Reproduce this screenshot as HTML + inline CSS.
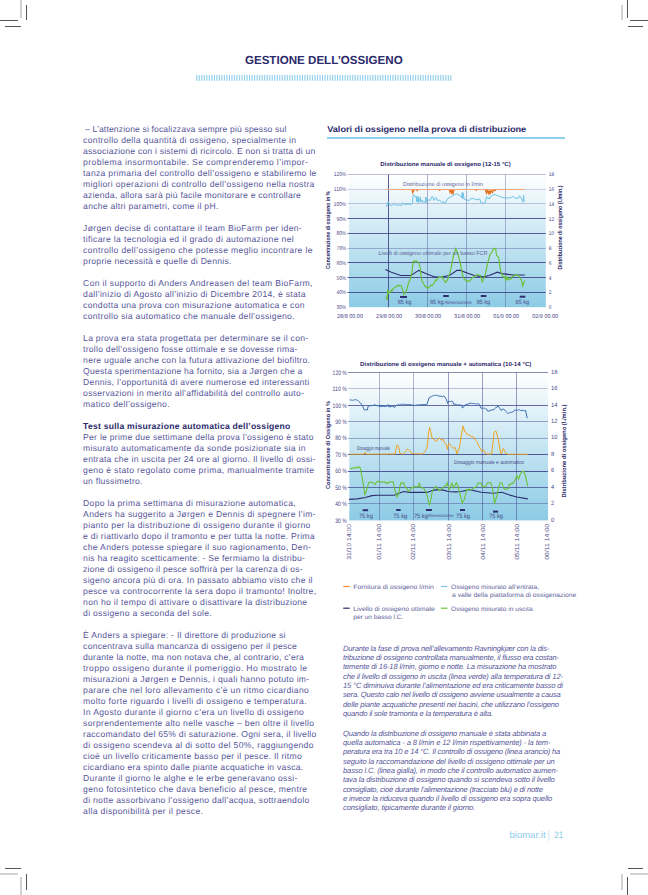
<!DOCTYPE html>
<html><head><meta charset="utf-8"><style>
html,body{margin:0;padding:0;background:#fff;}
body{width:648px;height:895px;position:relative;overflow:hidden;font-family:"Liberation Sans",sans-serif;}
.l{position:absolute;white-space:nowrap;color:#57579a;font-size:9.2px;line-height:11px;left:83px;}
.l b{color:#2b2a6b;}
.c{position:absolute;white-space:nowrap;color:#57579a;font-size:7.6px;line-height:9px;left:343px;font-style:italic;}
.abs{position:absolute;}
</style></head><body>

<div class="abs" style="left:20px;top:0px;width:2px;height:18px;background:#d2d2d2"></div>
<div class="abs" style="left:26px;top:5px;width:1px;height:15px;background:#555"></div>
<div class="abs" style="left:0px;top:20px;width:18px;height:1px;background:#555"></div>
<div class="abs" style="left:5px;top:26px;width:16px;height:1px;background:#555"></div>
<div class="abs" style="left:621px;top:5px;width:2px;height:15px;background:#d2d2d2"></div>
<div class="abs" style="left:627px;top:0px;width:1px;height:18px;background:#555"></div>
<div class="abs" style="left:630px;top:20px;width:18px;height:1px;background:#555"></div>
<div class="abs" style="left:628px;top:26px;width:15px;height:1px;background:#555"></div>
<div class="abs" style="left:5px;top:868px;width:16px;height:1px;background:#555"></div>
<div class="abs" style="left:0px;top:873px;width:18px;height:2px;background:#d2d2d2"></div>
<div class="abs" style="left:20px;top:877px;width:2px;height:18px;background:#d2d2d2"></div>
<div class="abs" style="left:26px;top:874px;width:1px;height:16px;background:#555"></div>
<div class="abs" style="left:628px;top:868px;width:15px;height:1px;background:#555"></div>
<div class="abs" style="left:630px;top:873px;width:18px;height:2px;background:#d2d2d2"></div>
<div class="abs" style="left:621px;top:874px;width:2px;height:16px;background:#d2d2d2"></div>
<div class="abs" style="left:627px;top:877px;width:1px;height:18px;background:#555"></div>
<svg class="abs" style="left:0;top:0" width="648" height="120" font-family="Liberation Sans, sans-serif" text-rendering="geometricPrecision"><text x="244.9" y="63.6" font-size="11.7" font-weight="bold" fill="#2b2a6b" textLength="157.8" lengthAdjust="spacingAndGlyphs">GESTIONE DELL’OSSIGENO</text></svg>
<svg class="abs" style="left:0;top:0" width="648" height="100"><rect x="196.20" y="75" width="1.15" height="5.8" fill="#92d0ec"/><rect x="198.71" y="75" width="1.15" height="5.8" fill="#92d0ec"/><rect x="201.23" y="75" width="1.15" height="5.8" fill="#92d0ec"/><rect x="203.74" y="75" width="1.15" height="5.8" fill="#92d0ec"/><rect x="206.26" y="75" width="1.15" height="5.8" fill="#92d0ec"/><rect x="208.77" y="75" width="1.15" height="5.8" fill="#92d0ec"/><rect x="211.29" y="75" width="1.15" height="5.8" fill="#92d0ec"/><rect x="213.80" y="75" width="1.15" height="5.8" fill="#92d0ec"/><rect x="216.32" y="75" width="1.15" height="5.8" fill="#92d0ec"/><rect x="218.83" y="75" width="1.15" height="5.8" fill="#92d0ec"/><rect x="221.35" y="75" width="1.15" height="5.8" fill="#92d0ec"/><rect x="223.86" y="75" width="1.15" height="5.8" fill="#92d0ec"/><rect x="226.38" y="75" width="1.15" height="5.8" fill="#92d0ec"/><rect x="228.89" y="75" width="1.15" height="5.8" fill="#92d0ec"/><rect x="231.41" y="75" width="1.15" height="5.8" fill="#92d0ec"/><rect x="233.92" y="75" width="1.15" height="5.8" fill="#92d0ec"/><rect x="236.44" y="75" width="1.15" height="5.8" fill="#92d0ec"/><rect x="238.95" y="75" width="1.15" height="5.8" fill="#92d0ec"/><rect x="241.47" y="75" width="1.15" height="5.8" fill="#92d0ec"/><rect x="243.98" y="75" width="1.15" height="5.8" fill="#92d0ec"/><rect x="246.50" y="75" width="1.15" height="5.8" fill="#92d0ec"/><rect x="249.01" y="75" width="1.15" height="5.8" fill="#92d0ec"/><rect x="251.53" y="75" width="1.15" height="5.8" fill="#92d0ec"/><rect x="254.04" y="75" width="1.15" height="5.8" fill="#92d0ec"/><rect x="256.56" y="75" width="1.15" height="5.8" fill="#92d0ec"/><rect x="259.07" y="75" width="1.15" height="5.8" fill="#92d0ec"/><rect x="261.59" y="75" width="1.15" height="5.8" fill="#92d0ec"/><rect x="264.11" y="75" width="1.15" height="5.8" fill="#92d0ec"/><rect x="266.62" y="75" width="1.15" height="5.8" fill="#92d0ec"/><rect x="269.13" y="75" width="1.15" height="5.8" fill="#92d0ec"/><rect x="271.65" y="75" width="1.15" height="5.8" fill="#92d0ec"/><rect x="274.16" y="75" width="1.15" height="5.8" fill="#92d0ec"/><rect x="276.68" y="75" width="1.15" height="5.8" fill="#92d0ec"/><rect x="279.19" y="75" width="1.15" height="5.8" fill="#92d0ec"/><rect x="281.71" y="75" width="1.15" height="5.8" fill="#92d0ec"/><rect x="284.23" y="75" width="1.15" height="5.8" fill="#92d0ec"/><rect x="286.74" y="75" width="1.15" height="5.8" fill="#92d0ec"/><rect x="289.25" y="75" width="1.15" height="5.8" fill="#92d0ec"/><rect x="291.77" y="75" width="1.15" height="5.8" fill="#92d0ec"/><rect x="294.28" y="75" width="1.15" height="5.8" fill="#92d0ec"/><rect x="296.80" y="75" width="1.15" height="5.8" fill="#92d0ec"/><rect x="299.31" y="75" width="1.15" height="5.8" fill="#92d0ec"/><rect x="301.83" y="75" width="1.15" height="5.8" fill="#92d0ec"/><rect x="304.35" y="75" width="1.15" height="5.8" fill="#92d0ec"/><rect x="306.86" y="75" width="1.15" height="5.8" fill="#92d0ec"/><rect x="309.38" y="75" width="1.15" height="5.8" fill="#92d0ec"/><rect x="311.89" y="75" width="1.15" height="5.8" fill="#92d0ec"/><rect x="314.40" y="75" width="1.15" height="5.8" fill="#92d0ec"/><rect x="316.92" y="75" width="1.15" height="5.8" fill="#92d0ec"/><rect x="319.44" y="75" width="1.15" height="5.8" fill="#92d0ec"/><rect x="321.95" y="75" width="1.15" height="5.8" fill="#92d0ec"/><rect x="324.47" y="75" width="1.15" height="5.8" fill="#92d0ec"/><rect x="326.98" y="75" width="1.15" height="5.8" fill="#92d0ec"/><rect x="329.50" y="75" width="1.15" height="5.8" fill="#92d0ec"/><rect x="332.01" y="75" width="1.15" height="5.8" fill="#92d0ec"/><rect x="334.52" y="75" width="1.15" height="5.8" fill="#92d0ec"/><rect x="337.04" y="75" width="1.15" height="5.8" fill="#92d0ec"/><rect x="339.56" y="75" width="1.15" height="5.8" fill="#92d0ec"/><rect x="342.07" y="75" width="1.15" height="5.8" fill="#92d0ec"/><rect x="344.59" y="75" width="1.15" height="5.8" fill="#92d0ec"/><rect x="347.10" y="75" width="1.15" height="5.8" fill="#92d0ec"/><rect x="349.62" y="75" width="1.15" height="5.8" fill="#92d0ec"/><rect x="352.13" y="75" width="1.15" height="5.8" fill="#92d0ec"/><rect x="354.64" y="75" width="1.15" height="5.8" fill="#92d0ec"/><rect x="357.16" y="75" width="1.15" height="5.8" fill="#92d0ec"/><rect x="359.67" y="75" width="1.15" height="5.8" fill="#92d0ec"/><rect x="362.19" y="75" width="1.15" height="5.8" fill="#92d0ec"/><rect x="364.70" y="75" width="1.15" height="5.8" fill="#92d0ec"/><rect x="367.22" y="75" width="1.15" height="5.8" fill="#92d0ec"/><rect x="369.74" y="75" width="1.15" height="5.8" fill="#92d0ec"/><rect x="372.25" y="75" width="1.15" height="5.8" fill="#92d0ec"/><rect x="374.76" y="75" width="1.15" height="5.8" fill="#92d0ec"/><rect x="377.28" y="75" width="1.15" height="5.8" fill="#92d0ec"/><rect x="379.79" y="75" width="1.15" height="5.8" fill="#92d0ec"/><rect x="382.31" y="75" width="1.15" height="5.8" fill="#92d0ec"/><rect x="384.82" y="75" width="1.15" height="5.8" fill="#92d0ec"/><rect x="387.34" y="75" width="1.15" height="5.8" fill="#92d0ec"/><rect x="389.86" y="75" width="1.15" height="5.8" fill="#92d0ec"/><rect x="392.37" y="75" width="1.15" height="5.8" fill="#92d0ec"/><rect x="394.88" y="75" width="1.15" height="5.8" fill="#92d0ec"/><rect x="397.40" y="75" width="1.15" height="5.8" fill="#92d0ec"/><rect x="399.91" y="75" width="1.15" height="5.8" fill="#92d0ec"/><rect x="402.43" y="75" width="1.15" height="5.8" fill="#92d0ec"/><rect x="404.94" y="75" width="1.15" height="5.8" fill="#92d0ec"/><rect x="407.46" y="75" width="1.15" height="5.8" fill="#92d0ec"/><rect x="409.98" y="75" width="1.15" height="5.8" fill="#92d0ec"/><rect x="412.49" y="75" width="1.15" height="5.8" fill="#92d0ec"/><rect x="415.00" y="75" width="1.15" height="5.8" fill="#92d0ec"/><rect x="417.52" y="75" width="1.15" height="5.8" fill="#92d0ec"/><rect x="420.03" y="75" width="1.15" height="5.8" fill="#92d0ec"/><rect x="422.55" y="75" width="1.15" height="5.8" fill="#92d0ec"/><rect x="425.06" y="75" width="1.15" height="5.8" fill="#92d0ec"/><rect x="427.58" y="75" width="1.15" height="5.8" fill="#92d0ec"/><rect x="430.10" y="75" width="1.15" height="5.8" fill="#92d0ec"/><rect x="432.61" y="75" width="1.15" height="5.8" fill="#92d0ec"/><rect x="435.12" y="75" width="1.15" height="5.8" fill="#92d0ec"/><rect x="437.64" y="75" width="1.15" height="5.8" fill="#92d0ec"/><rect x="440.15" y="75" width="1.15" height="5.8" fill="#92d0ec"/><rect x="442.67" y="75" width="1.15" height="5.8" fill="#92d0ec"/><rect x="445.19" y="75" width="1.15" height="5.8" fill="#92d0ec"/><rect x="447.70" y="75" width="1.15" height="5.8" fill="#92d0ec"/><rect x="450.22" y="75" width="1.15" height="5.8" fill="#92d0ec"/></svg>
<svg class="abs" style="left:0;top:0" width="648" height="895" viewBox="0 0 648 895" font-family="Liberation Sans, sans-serif" text-rendering="geometricPrecision">
<text x="85.0" y="131.7" font-size="8.6" fill="#57579a" textLength="201.3" lengthAdjust="spacing">– L’attenzione si focalizzava sempre più spesso sul</text>
<text x="83.1" y="142.7" font-size="8.6" fill="#57579a" textLength="212.9" lengthAdjust="spacing">controllo della quantità di ossigeno, specialmente in</text>
<text x="83.1" y="153.7" font-size="8.6" fill="#57579a" textLength="232.2" lengthAdjust="spacing">associazione con i sistemi di ricircolo. E non si tratta di un</text>
<text x="83.1" y="164.7" font-size="8.6" fill="#57579a" textLength="224.8" lengthAdjust="spacing">problema insormontabile. Se comprenderemo l’impor-</text>
<text x="83.1" y="175.7" font-size="8.6" fill="#57579a" textLength="233.3" lengthAdjust="spacing">tanza primaria del controllo dell’ossigeno e stabiliremo le</text>
<text x="83.1" y="186.7" font-size="8.6" fill="#57579a" textLength="231.3" lengthAdjust="spacing">migliori operazioni di controllo dell’ossigeno nella nostra</text>
<text x="83.1" y="197.7" font-size="8.6" fill="#57579a" textLength="217.8" lengthAdjust="spacing">azienda, allora sarà più facile monitorare e controllare</text>
<text x="83.1" y="208.7" font-size="8.6" fill="#57579a" textLength="135.2" lengthAdjust="spacing">anche altri parametri, come il pH.</text>
<text x="83.1" y="230.7" font-size="8.6" fill="#57579a" textLength="218.6" lengthAdjust="spacing">Jørgen decise di contattare il team BioFarm per iden-</text>
<text x="83.1" y="241.7" font-size="8.6" fill="#57579a" textLength="210.6" lengthAdjust="spacing">tificare la tecnologia ed il grado di automazione nel</text>
<text x="83.1" y="252.7" font-size="8.6" fill="#57579a" textLength="229.4" lengthAdjust="spacing">controllo dell’ossigeno che potesse meglio incontrare le</text>
<text x="83.1" y="263.7" font-size="8.6" fill="#57579a" textLength="148.3" lengthAdjust="spacing">proprie necessità e quelle di Dennis.</text>
<text x="83.1" y="285.7" font-size="8.6" fill="#57579a" textLength="229.4" lengthAdjust="spacing">Con il supporto di Anders Andreasen del team BioFarm,</text>
<text x="83.1" y="296.7" font-size="8.6" fill="#57579a" textLength="222.4" lengthAdjust="spacing">dall’inizio di Agosto all’inizio di Dicembre 2014, è stata</text>
<text x="83.1" y="307.7" font-size="8.6" fill="#57579a" textLength="221.4" lengthAdjust="spacing">condotta una prova con misurazione automatica e con</text>
<text x="83.1" y="318.7" font-size="8.6" fill="#57579a" textLength="211.4" lengthAdjust="spacing">controllo sia automatico che manuale dell’ossigeno.</text>
<text x="83.1" y="340.7" font-size="8.6" fill="#57579a" textLength="225.0" lengthAdjust="spacing">La prova era stata progettata per determinare se il con-</text>
<text x="83.1" y="351.7" font-size="8.6" fill="#57579a" textLength="214.2" lengthAdjust="spacing">trollo dell’ossigeno fosse ottimale e se dovesse rima-</text>
<text x="83.1" y="362.7" font-size="8.6" fill="#57579a" textLength="226.8" lengthAdjust="spacing">nere uguale anche con la futura attivazione del biofiltro.</text>
<text x="83.1" y="373.7" font-size="8.6" fill="#57579a" textLength="219.2" lengthAdjust="spacing">Questa sperimentazione ha fornito, sia a Jørgen che a</text>
<text x="83.1" y="384.7" font-size="8.6" fill="#57579a" textLength="226.1" lengthAdjust="spacing">Dennis, l’opportunità di avere numerose ed interessanti</text>
<text x="83.1" y="395.7" font-size="8.6" fill="#57579a" textLength="220.7" lengthAdjust="spacing">osservazioni in merito all’affidabilità del controllo auto-</text>
<text x="83.1" y="406.7" font-size="8.6" fill="#57579a" textLength="86.5" lengthAdjust="spacing">matico dell’ossigeno.</text>
<text x="83.1" y="428.7" font-size="8.6" font-weight="bold" fill="#2b2a6b" textLength="207.1" lengthAdjust="spacing">Test sulla misurazione automatica dell’ossigeno</text>
<text x="83.1" y="439.7" font-size="8.6" fill="#57579a" textLength="230.4" lengthAdjust="spacing">Per le prime due settimane della prova l’ossigeno è stato</text>
<text x="83.1" y="450.7" font-size="8.6" fill="#57579a" textLength="222.4" lengthAdjust="spacing">misurato automaticamente da sonde posizionate sia in</text>
<text x="83.1" y="461.7" font-size="8.6" fill="#57579a" textLength="232.2" lengthAdjust="spacing">entrata che in uscita per 24 ore al giorno. Il livello di ossi-</text>
<text x="83.1" y="472.7" font-size="8.6" fill="#57579a" textLength="230.9" lengthAdjust="spacing">geno è stato regolato come prima, manualmente tramite</text>
<text x="83.1" y="483.7" font-size="8.6" fill="#57579a" textLength="59.3" lengthAdjust="spacing">un flussimetro.</text>
<text x="83.1" y="505.7" font-size="8.6" fill="#57579a" textLength="212.5" lengthAdjust="spacing">Dopo la prima settimana di misurazione automatica,</text>
<text x="83.1" y="516.7" font-size="8.6" fill="#57579a" textLength="232.6" lengthAdjust="spacing">Anders ha suggerito a Jørgen e Dennis di spegnere l’im-</text>
<text x="83.1" y="527.7" font-size="8.6" fill="#57579a" textLength="227.2" lengthAdjust="spacing">pianto per la distribuzione di ossigeno durante il giorno</text>
<text x="83.1" y="538.7" font-size="8.6" fill="#57579a" textLength="231.5" lengthAdjust="spacing">e di riattivarlo dopo il tramonto e per tutta la notte. Prima</text>
<text x="83.1" y="549.7" font-size="8.6" fill="#57579a" textLength="227.8" lengthAdjust="spacing">che Anders potesse spiegare il suo ragionamento, Den-</text>
<text x="83.1" y="560.7" font-size="8.6" fill="#57579a" textLength="221.8" lengthAdjust="spacing">nis ha reagito scetticamente: - Se fermiamo la distribu-</text>
<text x="83.1" y="571.7" font-size="8.6" fill="#57579a" textLength="219.6" lengthAdjust="spacing">zione di ossigeno il pesce soffrirà per la carenza di os-</text>
<text x="83.1" y="582.7" font-size="8.6" fill="#57579a" textLength="229.4" lengthAdjust="spacing">sigeno ancora più di ora. In passato abbiamo visto che il</text>
<text x="83.1" y="593.7" font-size="8.6" fill="#57579a" textLength="233.0" lengthAdjust="spacing">pesce va controcorrente la sera dopo il tramonto! Inoltre,</text>
<text x="83.1" y="604.7" font-size="8.6" fill="#57579a" textLength="224.0" lengthAdjust="spacing">non ho il tempo di attivare o disattivare la distribuzione</text>
<text x="83.1" y="615.7" font-size="8.6" fill="#57579a" textLength="128.5" lengthAdjust="spacing">di ossigeno a seconda del sole.</text>
<text x="83.1" y="637.7" font-size="8.6" fill="#57579a" textLength="202.4" lengthAdjust="spacing">È Anders a spiegare: - Il direttore di produzione si</text>
<text x="83.1" y="648.7" font-size="8.6" fill="#57579a" textLength="213.8" lengthAdjust="spacing">concentrava sulla mancanza di ossigeno per il pesce</text>
<text x="83.1" y="659.7" font-size="8.6" fill="#57579a" textLength="220.7" lengthAdjust="spacing">durante la notte, ma non notava che, al contrario, c’era</text>
<text x="83.1" y="670.7" font-size="8.6" fill="#57579a" textLength="224.0" lengthAdjust="spacing">troppo ossigeno durante il pomeriggio. Ho mostrato le</text>
<text x="83.1" y="681.7" font-size="8.6" fill="#57579a" textLength="226.1" lengthAdjust="spacing">misurazioni a Jørgen e Dennis, i quali hanno potuto im-</text>
<text x="83.1" y="692.7" font-size="8.6" fill="#57579a" textLength="225.7" lengthAdjust="spacing">parare che nel loro allevamento c’è un ritmo cicardiano</text>
<text x="83.1" y="703.7" font-size="8.6" fill="#57579a" textLength="223.5" lengthAdjust="spacing">molto forte riguardo i livelli di ossigeno e temperatura.</text>
<text x="83.1" y="714.7" font-size="8.6" fill="#57579a" textLength="220.7" lengthAdjust="spacing">In Agosto durante il giorno c’era un livello di ossigeno</text>
<text x="83.1" y="725.7" font-size="8.6" fill="#57579a" textLength="230.9" lengthAdjust="spacing">sorprendentemente alto nelle vasche – ben oltre il livello</text>
<text x="83.1" y="736.7" font-size="8.6" fill="#57579a" textLength="233.2" lengthAdjust="spacing">raccomandato del 65% di saturazione. Ogni sera, il livello</text>
<text x="83.1" y="747.7" font-size="8.6" fill="#57579a" textLength="230.4" lengthAdjust="spacing">di ossigeno scendeva al di sotto del 50%, raggiungendo</text>
<text x="83.1" y="758.7" font-size="8.6" fill="#57579a" textLength="218.6" lengthAdjust="spacing">cioè un livello criticamente basso per il pesce. Il ritmo</text>
<text x="83.1" y="769.7" font-size="8.6" fill="#57579a" textLength="220.1" lengthAdjust="spacing">cicardiano era spinto dalle piante acquatiche in vasca.</text>
<text x="83.1" y="780.7" font-size="8.6" fill="#57579a" textLength="214.2" lengthAdjust="spacing">Durante il giorno le alghe e le erbe generavano ossi-</text>
<text x="83.1" y="791.7" font-size="8.6" fill="#57579a" textLength="224.0" lengthAdjust="spacing">geno fotosintetico che dava beneficio al pesce, mentre</text>
<text x="83.1" y="802.7" font-size="8.6" fill="#57579a" textLength="226.1" lengthAdjust="spacing">di notte assorbivano l’ossigeno dall’acqua, sottraendolo</text>
<text x="83.1" y="813.7" font-size="8.6" fill="#57579a" textLength="119.8" lengthAdjust="spacing">alla disponibilità per il pesce.</text>
<text x="343" y="650.8" font-size="7.6" font-style="italic" fill="#57579a" textLength="206.4" lengthAdjust="spacing">Durante la fase di prova nell’allevamento Ravningkjær con la dis-</text>
<text x="343" y="660.1" font-size="7.6" font-style="italic" fill="#57579a" textLength="216.1" lengthAdjust="spacing">tribuzione di ossigeno controllata manualmente, il flusso era costan-</text>
<text x="343" y="669.4" font-size="7.6" font-style="italic" fill="#57579a" textLength="213.5" lengthAdjust="spacing">temente di 16-18 l/min, giorno e notte. La misurazione ha mostrato</text>
<text x="343" y="678.7" font-size="7.6" font-style="italic" fill="#57579a" textLength="220.0" lengthAdjust="spacing">che il livello di ossigeno in uscita (linea verde) alla temperatura di 12-</text>
<text x="343" y="688.0" font-size="7.6" font-style="italic" fill="#57579a" textLength="220.0" lengthAdjust="spacing">15 °C diminuiva durante l’alimentazione ed era criticamente basso di</text>
<text x="343" y="697.3" font-size="7.6" font-style="italic" fill="#57579a" textLength="217.8" lengthAdjust="spacing">sera. Questo calo nel livello di ossigeno avviene usualmente a causa</text>
<text x="343" y="706.7" font-size="7.6" font-style="italic" fill="#57579a" textLength="216.1" lengthAdjust="spacing">delle piante acquatiche presenti nei bacini, che utilizzano l’ossigeno</text>
<text x="343" y="716.0" font-size="7.6" font-style="italic" fill="#57579a" textLength="150.2" lengthAdjust="spacing">quando il sole tramonta e la temperatura è alta.</text>
<text x="343" y="735.8" font-size="7.6" font-style="italic" fill="#57579a" textLength="203.2" lengthAdjust="spacing">Quando la distribuzione di ossigeno manuale è stata abbinata a</text>
<text x="343" y="745.1" font-size="7.6" font-style="italic" fill="#57579a" textLength="207.5" lengthAdjust="spacing">quella automatica - a 8 l/min e 12 l/min rispettivamente) - la tem-</text>
<text x="343" y="754.4" font-size="7.6" font-style="italic" fill="#57579a" textLength="217.2" lengthAdjust="spacing">peratura era tra 10 e 14 °C. Il controllo di ossigeno (linea arancio) ha</text>
<text x="343" y="763.7" font-size="7.6" font-style="italic" fill="#57579a" textLength="211.8" lengthAdjust="spacing">seguito la raccomandazione del livello di ossigeno ottimale per un</text>
<text x="343" y="773.0" font-size="7.6" font-style="italic" fill="#57579a" textLength="215.0" lengthAdjust="spacing">basso l.C. (linea gialla), in modo che il controllo automatico aumen-</text>
<text x="343" y="782.3" font-size="7.6" font-style="italic" fill="#57579a" textLength="211.8" lengthAdjust="spacing">tava la distribuzione di ossigeno quando si scendeva sotto il livello</text>
<text x="343" y="791.7" font-size="7.6" font-style="italic" fill="#57579a" textLength="199.9" lengthAdjust="spacing">consigliato, cioè durante l’alimentazione (tracciato blu) e di notte</text>
<text x="343" y="801.0" font-size="7.6" font-style="italic" fill="#57579a" textLength="209.2" lengthAdjust="spacing">e invece la riduceva quando il livello di ossigeno era sopra quello</text>
<text x="343" y="810.3" font-size="7.6" font-style="italic" fill="#57579a" textLength="132.3" lengthAdjust="spacing">consigliato, tipicamente durante il giorno.</text>
</svg>
<svg class="abs" style="left:0;top:0" width="648" height="140" font-family="Liberation Sans, sans-serif" text-rendering="geometricPrecision"><text x="327.2" y="131.6" font-size="8.5" font-weight="bold" fill="#2b2a6b" textLength="199" lengthAdjust="spacingAndGlyphs">Valori di ossigeno nella prova di distribuzione</text></svg>
<div class="abs" style="left:327px;top:137px;width:238px;height:1.6px;background:#8fd0ec"></div>
<svg class="abs" style="left:0;top:0" width="648" height="895" font-family="Liberation Sans, sans-serif" text-rendering="geometricPrecision"><text x="509.4" y="838" font-size="9.4" fill="#8ccbe8" textLength="36.2" lengthAdjust="spacing">biomar.it</text><rect x="548.3" y="830" width="1" height="11" fill="#d2eaf5"/><text x="554.2" y="838" font-size="9.4" fill="#8ccbe8" textLength="8.9" lengthAdjust="spacingAndGlyphs">21</text></svg>
<svg class="abs" style="left:0;top:0" width="648" height="895" viewBox="0 0 648 895" font-family="Liberation Sans, sans-serif" text-rendering="geometricPrecision">
<defs>
<linearGradient id="g1" x1="0" y1="0" x2="0" y2="1"><stop offset="0" stop-color="#ffffff"/><stop offset="1" stop-color="#8ccbe6"/></linearGradient>
<clipPath id="cdip"><rect x="380" y="190.1" width="160" height="12"/></clipPath>
</defs>
<text x="380.3" y="166.1" font-size="5.8" fill="#2b2a6b" textLength="130.5" lengthAdjust="spacingAndGlyphs" font-weight="bold">Distribuzione manuale di ossigeno (12-15 °C)</text>
<rect x="349" y="174.5" width="196.79999999999995" height="132.7" fill="url(#g1)"/>
<line x1="347.5" y1="174.50" x2="545.8" y2="174.50" stroke="#3c3f86" stroke-opacity="0.33" stroke-width="1"/>
<line x1="347.5" y1="189.50" x2="545.8" y2="189.50" stroke="#3c3f86" stroke-opacity="0.22" stroke-width="1"/>
<line x1="347.5" y1="203.50" x2="545.8" y2="203.50" stroke="#3c3f86" stroke-opacity="0.27" stroke-width="1"/>
<line x1="347.5" y1="218.50" x2="545.8" y2="218.50" stroke="#3c3f86" stroke-opacity="0.85" stroke-width="1"/>
<line x1="347.5" y1="233.50" x2="545.8" y2="233.50" stroke="#3c3f86" stroke-opacity="0.8" stroke-width="1"/>
<line x1="347.5" y1="248.50" x2="545.8" y2="248.50" stroke="#3c3f86" stroke-opacity="0.35" stroke-width="1"/>
<line x1="347.5" y1="262.50" x2="545.8" y2="262.50" stroke="#3c3f86" stroke-opacity="0.85" stroke-width="1"/>
<line x1="347.5" y1="277.50" x2="545.8" y2="277.50" stroke="#3c3f86" stroke-opacity="0.85" stroke-width="1"/>
<line x1="347.5" y1="292.50" x2="545.8" y2="292.50" stroke="#3c3f86" stroke-opacity="0.85" stroke-width="1"/>
<line x1="388.50" y1="174.5" x2="388.50" y2="307.2" stroke="#3c3f86" stroke-opacity="0.85" stroke-width="1"/>
<line x1="427.50" y1="174.5" x2="427.50" y2="307.2" stroke="#3c3f86" stroke-opacity="0.4" stroke-width="1"/>
<line x1="466.50" y1="174.5" x2="466.50" y2="307.2" stroke="#3c3f86" stroke-opacity="0.4" stroke-width="1"/>
<line x1="505.50" y1="174.5" x2="505.50" y2="307.2" stroke="#3c3f86" stroke-opacity="0.35" stroke-width="1"/>
<text x="333.8" y="176.4" font-size="5.6" fill="#4a4a88" textLength="12.3" lengthAdjust="spacingAndGlyphs">120%</text>
<text x="548.7" y="176.4" font-size="5.4" fill="#4a4a88" textLength="5.4" lengthAdjust="spacingAndGlyphs">18</text>
<text x="333.8" y="191.1" font-size="5.6" fill="#4a4a88" textLength="12.3" lengthAdjust="spacingAndGlyphs">110%</text>
<text x="548.7" y="191.1" font-size="5.4" fill="#4a4a88" textLength="5.4" lengthAdjust="spacingAndGlyphs">16</text>
<text x="333.8" y="205.9" font-size="5.6" fill="#4a4a88" textLength="12.3" lengthAdjust="spacingAndGlyphs">100%</text>
<text x="548.7" y="205.9" font-size="5.4" fill="#4a4a88" textLength="5.4" lengthAdjust="spacingAndGlyphs">14</text>
<text x="336.5" y="220.6" font-size="5.6" fill="#4a4a88" textLength="9.6" lengthAdjust="spacingAndGlyphs">90%</text>
<text x="548.7" y="220.6" font-size="5.4" fill="#4a4a88" textLength="5.4" lengthAdjust="spacingAndGlyphs">12</text>
<text x="336.5" y="235.4" font-size="5.6" fill="#4a4a88" textLength="9.6" lengthAdjust="spacingAndGlyphs">80%</text>
<text x="548.7" y="235.4" font-size="5.4" fill="#4a4a88" textLength="5.4" lengthAdjust="spacingAndGlyphs">10</text>
<text x="336.5" y="250.1" font-size="5.6" fill="#4a4a88" textLength="9.6" lengthAdjust="spacingAndGlyphs">70%</text>
<text x="548.7" y="250.1" font-size="5.4" fill="#4a4a88" textLength="2.7" lengthAdjust="spacingAndGlyphs">8</text>
<text x="336.5" y="264.9" font-size="5.6" fill="#4a4a88" textLength="9.6" lengthAdjust="spacingAndGlyphs">60%</text>
<text x="548.7" y="264.9" font-size="5.4" fill="#4a4a88" textLength="2.7" lengthAdjust="spacingAndGlyphs">6</text>
<text x="336.5" y="279.6" font-size="5.6" fill="#4a4a88" textLength="9.6" lengthAdjust="spacingAndGlyphs">50%</text>
<text x="548.7" y="279.6" font-size="5.4" fill="#4a4a88" textLength="2.7" lengthAdjust="spacingAndGlyphs">4</text>
<text x="336.5" y="294.4" font-size="5.6" fill="#4a4a88" textLength="9.6" lengthAdjust="spacingAndGlyphs">40%</text>
<text x="548.7" y="294.4" font-size="5.4" fill="#4a4a88" textLength="2.7" lengthAdjust="spacingAndGlyphs">2</text>
<text x="336.5" y="309.1" font-size="5.6" fill="#4a4a88" textLength="9.6" lengthAdjust="spacingAndGlyphs">30%</text>
<text x="548.7" y="309.1" font-size="5.4" fill="#4a4a88" textLength="2.7" lengthAdjust="spacingAndGlyphs">0</text>
<text x="337.0" y="317.8" font-size="5.6" fill="#4a4a88" textLength="26.0" lengthAdjust="spacingAndGlyphs">28/8 00.00</text>
<text x="376.1" y="317.8" font-size="5.6" fill="#4a4a88" textLength="26.0" lengthAdjust="spacingAndGlyphs">29/8 00.00</text>
<text x="415.1" y="317.8" font-size="5.6" fill="#4a4a88" textLength="26.0" lengthAdjust="spacingAndGlyphs">30/8 00.00</text>
<text x="454.1" y="317.8" font-size="5.6" fill="#4a4a88" textLength="26.0" lengthAdjust="spacingAndGlyphs">31/8 00.00</text>
<text x="493.2" y="317.8" font-size="5.6" fill="#4a4a88" textLength="26.0" lengthAdjust="spacingAndGlyphs">01/9 00.00</text>
<text x="532.2" y="317.8" font-size="5.6" fill="#4a4a88" textLength="26.0" lengthAdjust="spacingAndGlyphs">02/9 00.00</text>
<text transform="translate(330.0,230.0) rotate(-90)" font-size="6.0" fill="#2b2a6b" textLength="78.0" lengthAdjust="spacingAndGlyphs" font-weight="bold" text-anchor="middle">Concentrazione di ossigeno in %</text>
<text transform="translate(562.4,227.6) rotate(-90)" font-size="6.0" fill="#2b2a6b" textLength="84.0" lengthAdjust="spacingAndGlyphs" font-weight="bold" text-anchor="middle">Distribuzione di ossigeno (l./min.)</text>
<line x1="386.2" y1="189.5" x2="524.9" y2="189.5" stroke="#f0a478" stroke-width="1.2"/>
<polyline points="386.2,189.4 411.8,189.4 412.8,192.7 413.8,190.5 414.9,189.4 416.8,189.4 417.2,191.0 417.6,189.4 439.3,189.4 439.6,190.8 440.0,189.4 449.3,189.4 450.0,192.0 450.8,189.8 451.5,192.5 452.2,190.0 453.0,194.3 453.8,190.0 454.7,189.4 476.0,189.4 476.3,191.0 476.6,189.4 485.3,189.4 486.3,193.0 487.2,190.0 488.3,193.5 489.3,190.5 490.0,194.4 491.0,190.5 492.5,192.5 493.5,190.0 495.4,190.5 496.0,189.4 524.9,189.4" fill="none" stroke="#e3731e" stroke-width="1.3" clip-path="url(#cdip)"/>
<polyline points="386.3,207.0 388.2,201.6 389.4,204.7 391.7,205.8 394.0,203.9 396.3,205.1 400.2,205.1 401.4,205.8 402.5,202.8 404.1,204.7 406.4,203.5 406.4,204.7 407.1,203.3 407.8,204.5 408.5,203.1 409.2,204.6 409.9,203.7 410.6,205.0 412.5,203.1 413.2,194.7 414.9,195.8 416.4,198.5 416.4,201.6 416.9,196.3 417.5,201.8 418.1,196.5 418.6,202.7 419.2,199.0 419.7,200.7 420.3,196.9 420.8,202.4 421.4,200.4 421.9,200.3 422.5,200.0 423.0,201.9 423.6,202.8 424.1,202.9 424.7,202.0 425.2,202.2 425.8,197.0 426.3,202.7 426.9,198.2 428.0,200.0 430.3,200.4 431.8,196.6 432.7,196.6 433.9,200.4 435.8,197.4 436.9,200.1 440.0,200.4 441.6,201.6 442.3,203.1 443.5,201.5 444.5,203.1 445.4,203.1 447.7,198.5 450.8,197.0 453.1,195.4 456.2,193.9 457.8,194.3 460.9,196.2 461.6,197.7 462.3,192.2 462.8,199.0 463.3,193.0 464.0,198.9 466.3,200.1 469.4,200.4 470.9,198.5 473.2,198.5 476.3,199.7 479.7,199.0 481.1,203.1 484.8,203.1 485.7,200.8 486.0,198.0 486.6,196.5 487.2,198.3 487.8,197.9 488.4,198.6 489.0,197.6 489.6,198.9 490.8,196.2 494.1,194.4 496.4,195.3 499.1,196.2 502.9,197.6 506.6,198.1 511.2,197.6 512.6,196.2 514.9,198.1 518.6,198.1 519.5,195.7 521.8,199.0 522.8,202.2 523.7,195.3 524.1,201.8" fill="none" stroke="#72c3e6" stroke-width="1"/>
<polyline points="385.4,269.5 391.4,272.2 400.7,275.5 410.9,275.5 418.7,270.4 425.7,273.6 434.9,276.9 440.0,277.3 449.3,275.5 457.1,270.4 460.4,270.4 467.8,273.2 474.3,275.5 483.5,276.9 489.1,275.5 497.4,272.2 502.0,273.6 513.1,275.0 524.7,275.0" fill="none" stroke="#2e2e6e" stroke-width="1.1"/>
<polyline points="386.0,296.8 387.2,300.0 387.8,289.4 388.6,294.0 389.0,292.1 390.5,292.1 391.5,290.0 392.0,291.0 393.3,288.4 395.0,287.5 396.0,286.7 396.9,286.1 397.9,285.2 399.0,286.0 400.0,285.5 401.1,285.7 402.5,289.4 403.9,294.5 404.9,293.3 405.8,292.1 407.0,288.5 408.1,284.7 409.0,281.8 410.0,279.8 410.9,277.3 412.2,269.9 413.2,261.6 414.6,260.7 415.5,262.0 416.5,261.0 417.3,261.6 418.7,263.4 420.1,267.1 421.0,274.6 422.0,281.0 423.4,283.5 424.7,285.7 425.8,287.0 426.9,286.9 428.0,288.4 429.1,287.0 430.3,286.1 431.2,285.1 432.2,285.6 433.1,284.7 434.2,282.7 435.4,280.1 436.5,280.5 437.7,278.7 438.6,277.4 439.6,277.3 441.0,277.5 442.3,276.4 443.2,279.2 444.2,280.6 445.6,282.4 447.4,280.1 448.4,277.6 449.3,274.6 450.6,269.9 452.0,263.4 453.4,256.0 454.8,251.4 455.7,248.6 457.1,251.4 458.5,256.0 459.9,261.6 461.3,268.1 462.7,275.5 463.6,277.7 464.5,279.6 465.7,280.1 466.9,281.5 467.8,280.8 468.7,281.5 469.6,281.5 470.8,279.3 471.9,278.3 473.1,277.2 474.3,276.9 475.5,275.6 476.6,275.0 477.6,274.5 478.6,275.2 479.7,275.3 480.7,275.5 482.1,282.0 483.5,279.2 484.4,276.9 485.4,273.6 486.8,267.1 488.1,261.6 489.1,257.9 490.0,254.2 490.9,253.4 491.9,252.3 492.8,250.2 493.7,248.2 494.6,248.6 495.6,248.6 496.5,255.1 497.6,256.4 498.8,257.9 499.7,264.4 500.6,270.9 501.6,273.1 502.5,275.9 503.6,277.1 504.8,276.9 505.5,279.6 506.2,277.0 507.0,279.8 508.0,277.5 509.0,279.6 510.4,279.2 511.3,278.5 512.2,276.4 513.1,276.5 514.1,276.0 515.0,275.1 516.0,274.6 516.9,274.6 517.8,275.2 518.7,275.8 519.6,277.3 520.5,279.1 521.5,280.1 522.6,286.1 523.7,283.2 524.7,280.6" fill="none" stroke="#6cc23a" stroke-width="1.2"/>
<text x="403.0" y="186.0" font-size="5.8" fill="#6a6a9c" textLength="80.0" lengthAdjust="spacingAndGlyphs">Distribuzione di ossigeno in l/min</text>
<text x="378.4" y="255.2" font-size="5.8" fill="#5c5c92" textLength="109.0" lengthAdjust="spacingAndGlyphs">Livelli di ossigeno ottimale per un basso FCR</text>
<rect x="400" y="296" width="7" height="2" fill="#2e2e70"/>
<text x="397.8" y="304.0" font-size="6.2" fill="#4a4a88" textLength="13.5" lengthAdjust="spacingAndGlyphs">85 kg</text>
<rect x="443.2" y="295" width="5.600000000000023" height="2" fill="#2e2e70"/>
<text x="430.0" y="304.0" font-size="6.2" fill="#4a4a88" textLength="13.5" lengthAdjust="spacingAndGlyphs">85 kg</text>
<rect x="480.8" y="295" width="5.599999999999966" height="2" fill="#2e2e70"/>
<text x="476.7" y="304.0" font-size="6.2" fill="#4a4a88" textLength="13.5" lengthAdjust="spacingAndGlyphs">85 kg</text>
<rect x="519.7" y="295.7" width="5.599999999999909" height="2" fill="#2e2e70"/>
<text x="515.6" y="304.0" font-size="6.2" fill="#4a4a88" textLength="13.5" lengthAdjust="spacingAndGlyphs">85 kg</text>
<text x="444.4" y="303.6" font-size="4.8" fill="#4a4a88" textLength="27.4" lengthAdjust="spacingAndGlyphs">Alimentazione</text>
<text x="360.0" y="366.0" font-size="5.8" fill="#2b2a6b" textLength="171.4" lengthAdjust="spacingAndGlyphs" font-weight="bold">Distribuzione di ossigeno manuale + automatica (10-14 °C)</text>
<rect x="349.3" y="372.5" width="198.7" height="147.89999999999998" fill="url(#g1)"/>
<line x1="347.8" y1="372.50" x2="548" y2="372.50" stroke="#3c3f86" stroke-opacity="0.6" stroke-width="1"/>
<line x1="347.8" y1="388.50" x2="548" y2="388.50" stroke="#3c3f86" stroke-opacity="0.3" stroke-width="1"/>
<line x1="347.8" y1="405.50" x2="548" y2="405.50" stroke="#3c3f86" stroke-opacity="0.75" stroke-width="1"/>
<line x1="347.8" y1="421.50" x2="548" y2="421.50" stroke="#3c3f86" stroke-opacity="0.45" stroke-width="1"/>
<line x1="347.8" y1="438.50" x2="548" y2="438.50" stroke="#3c3f86" stroke-opacity="0.4" stroke-width="1"/>
<line x1="347.8" y1="454.50" x2="548" y2="454.50" stroke="#3c3f86" stroke-opacity="0.85" stroke-width="1"/>
<line x1="347.8" y1="471.50" x2="548" y2="471.50" stroke="#3c3f86" stroke-opacity="0.85" stroke-width="1"/>
<line x1="347.8" y1="487.50" x2="548" y2="487.50" stroke="#3c3f86" stroke-opacity="0.7" stroke-width="1"/>
<line x1="347.8" y1="503.50" x2="548" y2="503.50" stroke="#3c3f86" stroke-opacity="0.4" stroke-width="1"/>
<line x1="379.50" y1="372.5" x2="379.50" y2="520.4" stroke="#3c3f86" stroke-opacity="0.38" stroke-width="1"/>
<line x1="413.50" y1="372.5" x2="413.50" y2="520.4" stroke="#3c3f86" stroke-opacity="0.38" stroke-width="1"/>
<line x1="448.50" y1="372.5" x2="448.50" y2="520.4" stroke="#3c3f86" stroke-opacity="0.5" stroke-width="1"/>
<line x1="482.50" y1="372.5" x2="482.50" y2="520.4" stroke="#3c3f86" stroke-opacity="0.5" stroke-width="1"/>
<line x1="516.50" y1="372.5" x2="516.50" y2="520.4" stroke="#3c3f86" stroke-opacity="0.5" stroke-width="1"/>
<text x="332.6" y="374.7" font-size="6.4" fill="#4a4a88" textLength="14.2" lengthAdjust="spacingAndGlyphs">120 %</text>
<text x="551.0" y="373.7" font-size="6.2" fill="#4a4a88" textLength="6.4" lengthAdjust="spacingAndGlyphs">18</text>
<text x="332.6" y="391.1" font-size="6.4" fill="#4a4a88" textLength="14.2" lengthAdjust="spacingAndGlyphs">110 %</text>
<text x="551.0" y="390.1" font-size="6.2" fill="#4a4a88" textLength="6.4" lengthAdjust="spacingAndGlyphs">16</text>
<text x="332.6" y="407.6" font-size="6.4" fill="#4a4a88" textLength="14.2" lengthAdjust="spacingAndGlyphs">100 %</text>
<text x="551.0" y="406.6" font-size="6.2" fill="#4a4a88" textLength="6.4" lengthAdjust="spacingAndGlyphs">14</text>
<text x="335.2" y="424.0" font-size="6.4" fill="#4a4a88" textLength="11.6" lengthAdjust="spacingAndGlyphs">90 %</text>
<text x="551.0" y="423.0" font-size="6.2" fill="#4a4a88" textLength="6.4" lengthAdjust="spacingAndGlyphs">12</text>
<text x="335.2" y="440.4" font-size="6.4" fill="#4a4a88" textLength="11.6" lengthAdjust="spacingAndGlyphs">80 %</text>
<text x="551.0" y="439.4" font-size="6.2" fill="#4a4a88" textLength="6.4" lengthAdjust="spacingAndGlyphs">10</text>
<text x="335.2" y="456.9" font-size="6.4" fill="#4a4a88" textLength="11.6" lengthAdjust="spacingAndGlyphs">70 %</text>
<text x="551.0" y="455.9" font-size="6.2" fill="#4a4a88" textLength="3.2" lengthAdjust="spacingAndGlyphs">8</text>
<text x="335.2" y="473.3" font-size="6.4" fill="#4a4a88" textLength="11.6" lengthAdjust="spacingAndGlyphs">60 %</text>
<text x="551.0" y="472.3" font-size="6.2" fill="#4a4a88" textLength="3.2" lengthAdjust="spacingAndGlyphs">6</text>
<text x="335.2" y="489.7" font-size="6.4" fill="#4a4a88" textLength="11.6" lengthAdjust="spacingAndGlyphs">50 %</text>
<text x="551.0" y="488.7" font-size="6.2" fill="#4a4a88" textLength="3.2" lengthAdjust="spacingAndGlyphs">4</text>
<text x="335.2" y="506.2" font-size="6.4" fill="#4a4a88" textLength="11.6" lengthAdjust="spacingAndGlyphs">40 %</text>
<text x="551.0" y="505.2" font-size="6.2" fill="#4a4a88" textLength="3.2" lengthAdjust="spacingAndGlyphs">2</text>
<text x="335.2" y="522.6" font-size="6.4" fill="#4a4a88" textLength="11.6" lengthAdjust="spacingAndGlyphs">30 %</text>
<text x="551.0" y="521.6" font-size="6.2" fill="#4a4a88" textLength="3.2" lengthAdjust="spacingAndGlyphs">0</text>
<text transform="translate(351.1,559.8) rotate(-90)" font-size="6.0" fill="#4a4a88" textLength="35.8" lengthAdjust="spacingAndGlyphs">31/10 14:00</text>
<text transform="translate(381.2,559.8) rotate(-90)" font-size="6.0" fill="#4a4a88" textLength="35.8" lengthAdjust="spacingAndGlyphs">01/11 14:00</text>
<text transform="translate(415.3,559.8) rotate(-90)" font-size="6.0" fill="#4a4a88" textLength="35.8" lengthAdjust="spacingAndGlyphs">02/11 14:00</text>
<text transform="translate(450.9,559.8) rotate(-90)" font-size="6.0" fill="#4a4a88" textLength="35.8" lengthAdjust="spacingAndGlyphs">03/11 14:00</text>
<text transform="translate(485.2,559.8) rotate(-90)" font-size="6.0" fill="#4a4a88" textLength="35.8" lengthAdjust="spacingAndGlyphs">04/11 14:00</text>
<text transform="translate(518.7,559.8) rotate(-90)" font-size="6.0" fill="#4a4a88" textLength="35.8" lengthAdjust="spacingAndGlyphs">05/11 14:00</text>
<text transform="translate(549.4,559.8) rotate(-90)" font-size="6.0" fill="#4a4a88" textLength="35.8" lengthAdjust="spacingAndGlyphs">06/11 14:00</text>
<text transform="translate(330.2,445.0) rotate(-90)" font-size="6.0" fill="#2b2a6b" textLength="88.0" lengthAdjust="spacingAndGlyphs" font-weight="bold" text-anchor="middle">Concentrazione di Ossigeno in %</text>
<text transform="translate(566.0,451.0) rotate(-90)" font-size="6.0" fill="#2b2a6b" textLength="93.0" lengthAdjust="spacingAndGlyphs" font-weight="bold" text-anchor="middle">Distribuzione di ossigeno (l./min.)</text>
<polyline points="349.6,400.0 350.6,399.8 351.6,400.2 352.6,400.2 353.6,400.3 354.6,399.7 355.6,399.7 356.6,400.0 357.8,400.4 358.9,401.6 359.9,402.4 361.0,403.9 362.0,404.7 363.1,407.0 364.3,410.0 365.3,410.0 366.4,409.7 367.4,410.0 368.1,406.2 369.1,405.8 370.1,405.7 371.0,405.9 372.0,405.4 373.0,405.5 374.0,404.9 375.0,405.2 376.0,405.0 377.0,405.8 378.0,405.7 379.0,405.4 379.5,407.1 380.0,404.9 380.5,406.4 381.0,405.5 381.5,406.8 382.0,406.0 382.5,406.7 383.0,405.2 383.5,406.3 384.0,406.3 384.5,406.9 385.0,406.0 385.5,406.6 386.0,406.8 386.5,406.4 387.0,405.1 387.5,406.1 388.0,404.6 388.5,406.7 389.0,406.5 389.5,407.0 390.0,405.7 390.5,407.2 391.0,406.2 391.5,406.3 392.5,406.5 393.5,406.0 394.4,407.7 396.0,405.5 397.1,405.4 398.2,404.7 399.1,404.9 400.0,405.0 400.9,404.7 401.8,404.1 402.7,404.6 403.6,404.2 404.5,404.3 405.5,404.6 406.4,404.5 407.3,404.5 408.2,404.5 409.2,404.7 410.1,404.6 411.0,404.5 412.0,405.3 412.9,405.1 413.8,405.4 414.8,405.5 415.7,405.2 416.6,405.0 417.5,405.2 418.5,404.6 419.4,405.1 420.3,404.8 421.2,404.5 422.2,404.5 423.1,404.8 424.0,404.5 424.9,404.7 425.9,404.8 426.8,404.7 428.0,401.1 429.1,397.7 430.2,396.9 431.3,396.8 432.3,396.1 433.4,395.6 434.5,395.4 435.4,395.2 436.3,395.5 437.3,395.3 438.2,396.0 439.1,395.9 440.0,396.5 440.9,396.0 441.9,396.5 442.8,396.8 443.7,396.0 444.6,396.6 445.8,398.5 447.0,401.2 447.7,403.5 448.5,401.2 449.4,401.5 450.4,401.5 451.4,401.3 452.3,401.2 453.9,404.3 454.9,404.0 455.8,404.4 456.8,404.9 457.8,405.0 458.7,405.0 459.7,404.5 460.6,405.3 461.6,405.0 462.4,408.1 463.3,407.0 464.3,406.4 465.2,404.9 466.2,404.3 467.1,404.6 468.1,404.0 469.0,403.9 470.0,403.1 470.9,403.2 471.8,403.4 472.8,403.5 473.7,403.7 474.7,403.5 475.6,404.0 476.6,403.8 477.5,403.9 478.5,403.8 479.4,404.3 480.9,408.1 481.8,408.4 482.7,408.0 483.6,408.2 484.5,408.2 485.4,408.9 486.3,408.9 487.8,411.2 488.8,411.0 489.9,410.7 490.9,410.0 491.9,410.1 493.0,409.8 494.0,409.7 495.0,408.3 495.9,407.3 496.9,407.3 497.9,405.8 498.9,407.0 500.0,408.7 501.0,410.5 502.1,409.5 503.3,408.9 504.2,409.9 505.1,410.3 506.1,411.6 507.0,412.4 507.9,413.5 508.8,413.5 509.7,412.4 510.7,412.4 511.6,412.3 512.5,412.0 513.6,411.5 514.8,410.0 515.7,410.1 516.6,410.1 517.5,410.3 518.4,410.0 519.3,409.7 520.2,410.3 521.1,410.7 522.0,410.6 522.9,410.1 523.8,410.6 524.7,410.8 525.6,410.5 527.2,418.2" fill="none" stroke="#3a6cb0" stroke-width="1"/>
<polyline points="349.3,454.2 350.1,454.2 350.9,454.2 351.8,454.2 352.6,454.2 353.4,454.2 354.2,454.2 355.0,454.2 355.8,454.2 356.6,454.2 357.5,454.2 358.3,454.2 359.1,454.2 359.9,454.2 360.7,454.2 361.6,454.2 362.4,454.2 363.2,454.2 364.0,454.2 365.0,452.5 366.0,454.2 366.8,454.2 367.6,454.2 368.4,454.2 369.2,454.2 370.1,454.2 370.9,454.2 371.7,454.2 372.5,454.2 373.3,454.1 374.1,454.1 374.9,454.1 375.7,454.1 376.5,454.1 377.4,454.1 378.2,454.1 379.0,454.1 379.8,454.1 380.6,454.1 381.4,454.1 382.2,454.1 383.0,454.1 383.8,454.1 384.7,454.1 385.5,454.1 386.3,454.1 387.1,454.1 387.9,454.1 388.7,454.0 389.5,454.0 390.3,454.0 391.1,454.0 392.0,454.0 392.8,454.0 393.6,454.0 394.4,454.0 395.2,454.0 396.7,445.8 397.5,444.8 399.0,448.1 399.8,453.5 400.8,453.6 401.7,453.8 402.7,453.9 403.6,454.0 404.8,452.6 406.0,451.2 407.5,448.9 408.6,449.9 409.8,450.5 411.4,453.5 412.2,453.5 413.1,453.6 413.9,453.6 414.7,453.7 415.6,453.7 416.4,453.7 417.2,453.8 418.0,453.8 418.9,453.8 419.7,453.9 420.5,453.9 421.4,454.0 422.2,454.0 423.2,453.1 424.2,452.6 425.2,451.2 426.0,449.7 426.8,448.0 427.6,445.0 428.3,434.3 429.6,427.3 430.6,431.2 432.2,438.1 433.4,439.4 434.5,439.7 435.6,441.3 436.8,441.2 438.0,438.7 439.1,438.1 440.1,438.6 441.2,440.1 442.2,439.7 443.1,439.3 444.1,441.4 445.2,443.7 446.2,444.7 447.4,449.3 448.5,443.9 449.6,443.9 450.8,445.5 452.0,446.9 453.1,448.5 454.7,447.0 455.9,450.0 457.0,454.0 458.1,451.0 459.3,447.8 460.5,441.0 461.6,433.9 463.1,425.9 464.7,431.6 465.9,432.2 467.0,434.7 468.1,434.5 469.3,435.4 470.3,435.3 471.2,436.9 472.2,436.9 473.2,436.7 474.2,437.4 475.3,440.0 476.3,440.8 477.3,442.1 478.4,445.2 479.4,447.0 480.5,448.6 481.7,451.6 483.2,450.1 484.2,450.4 485.3,452.7 486.3,454.0 487.2,454.0 488.1,454.0 489.0,454.0 489.9,454.0 490.8,454.0 491.7,454.0 492.9,443.9 494.0,432.3 495.1,431.4 496.3,431.6 497.9,438.5 498.9,443.1 500.0,449.8 501.0,454.0 502.1,452.0 503.3,448.5 504.5,450.4 505.6,453.2 506.8,453.8 507.9,454.3 508.7,454.3 509.5,454.3 510.3,454.3 511.1,454.3 511.9,454.3 512.7,454.3 513.5,454.3 514.3,454.3 515.1,454.3 515.9,454.3 516.7,454.3 517.5,454.3 518.4,454.3 519.2,454.3 520.0,454.3 520.8,454.3 521.6,454.3 522.4,454.3 523.2,454.3 524.0,454.3 524.8,454.3 525.6,454.3 526.4,454.3 527.2,454.3 528.0,454.3" fill="none" stroke="#f2a21e" stroke-width="1"/>
<polyline points="349.0,499.4 357.0,498.9 365.4,497.5 371.9,495.6 378.3,495.2 394.1,495.2 399.6,492.9 403.7,491.5 409.3,492.4 426.9,492.4 432.4,490.6 437.0,489.6 443.5,490.1 448.1,491.5 455.6,491.9 461.2,491.5 469.8,489.6 480.9,492.3 493.3,493.3 501.9,492.3 508.1,494.6 516.7,497.0 527.8,498.9" fill="none" stroke="#2e2e6e" stroke-width="1.1"/>
<polyline points="349.6,468.8 350.5,468.6 351.5,468.3 352.4,467.8 353.4,468.6 354.3,467.9 355.2,467.1 356.1,467.7 357.1,468.1 358.0,466.8 358.9,467.4 359.8,467.2 360.7,469.3 361.6,475.0 362.6,480.4 363.8,487.2 364.9,495.2 365.9,492.2 366.8,489.6 367.7,486.4 368.6,482.7 369.8,482.2 370.9,481.8 371.9,482.6 372.8,482.7 374.0,483.1 375.1,484.5 376.9,481.8 377.9,481.4 378.9,481.3 379.9,481.8 380.9,482.4 381.9,481.9 382.9,482.2 383.9,481.8 384.8,482.1 385.8,483.0 386.7,482.6 387.6,483.6 389.4,481.8 390.3,481.5 391.2,482.0 392.2,482.1 393.1,481.8 394.1,486.1 395.0,490.6 395.9,493.2 396.9,497.0 397.8,495.3 398.7,494.3 399.6,488.3 400.6,483.1 401.6,482.7 402.7,483.3 403.7,482.7 405.1,486.9 406.9,488.7 408.3,491.5 409.2,490.4 410.2,490.1 411.6,487.3 412.6,487.8 413.6,487.7 414.6,486.5 415.5,486.9 416.5,487.0 417.5,486.3 418.5,486.9 419.4,482.7 420.4,486.9 421.3,487.1 422.2,488.1 423.1,487.8 424.0,488.5 425.0,490.4 425.9,491.5 426.9,494.7 427.8,498.9 429.4,505.4 431.0,498.9 432.4,490.6 433.5,489.1 434.7,487.3 436.1,486.4 437.0,488.4 438.0,488.8 438.9,490.6 439.8,489.4 440.7,489.6 441.6,488.3 442.6,488.1 443.5,487.3 444.4,486.0 445.4,485.5 446.3,485.5 447.2,482.7 448.1,486.1 449.1,489.6 450.0,488.0 451.0,485.2 451.9,483.1 452.8,485.3 453.7,487.8 454.9,485.5 456.2,482.8 457.1,484.1 458.1,486.5 459.9,493.3 461.1,498.4 462.4,503.2 463.4,500.9 464.3,499.5 465.5,494.7 466.7,489.6 467.8,490.2 468.9,489.0 469.9,489.7 471.0,489.6 471.9,489.3 472.9,488.2 473.9,487.9 474.8,487.8 475.7,487.2 476.6,486.0 477.6,483.5 478.5,482.8 479.7,483.1 480.9,482.8 482.2,486.5 483.1,487.1 484.0,486.1 485.0,486.7 485.9,486.5 486.8,484.0 487.7,482.8 488.7,482.6 489.8,483.0 490.8,482.8 491.8,486.0 492.7,489.0 493.6,496.8 494.5,503.8 495.8,499.2 497.0,495.8 497.9,490.9 498.8,486.5 500.1,482.8 501.9,482.8 502.9,486.1 503.8,488.4 505.0,489.6 505.9,489.4 506.9,488.9 507.8,488.6 508.7,488.4 509.3,484.1 510.2,484.6 511.1,483.9 512.1,483.0 513.0,483.5 514.2,481.7 515.5,479.1 516.7,475.4 517.7,477.0 518.6,479.1 520.4,473.6 521.4,472.7 522.5,471.5 523.5,471.1 524.5,473.5 525.4,476.0 526.6,481.0 527.8,486.5" fill="none" stroke="#6cc23a" stroke-width="1.1"/>
<text x="357.0" y="449.6" font-size="5.4" fill="#4a4a88" textLength="32.8" lengthAdjust="spacingAndGlyphs">Dosaggio manuale</text>
<text x="453.9" y="464.0" font-size="5.6" fill="#4a4a88" textLength="70.2" lengthAdjust="spacingAndGlyphs">Dosaggio manuale e automatico</text>
<rect x="362.7" y="509.2" width="5.400000000000034" height="2" fill="#2e2e70"/>
<text x="358.9" y="517.6" font-size="6.2" fill="#4a4a88" textLength="14.0" lengthAdjust="spacingAndGlyphs">75 kg</text>
<rect x="396.2" y="509" width="4.400000000000034" height="2" fill="#2e2e70"/>
<text x="393.2" y="517.6" font-size="6.2" fill="#4a4a88" textLength="14.0" lengthAdjust="spacingAndGlyphs">75 kg</text>
<rect x="425.9" y="509" width="6.0" height="2" fill="#2e2e70"/>
<text x="413.9" y="517.6" font-size="6.2" fill="#4a4a88" textLength="14.0" lengthAdjust="spacingAndGlyphs">75 kg</text>
<rect x="460" y="509" width="5" height="2" fill="#2e2e70"/>
<text x="456.0" y="517.6" font-size="6.2" fill="#4a4a88" textLength="14.0" lengthAdjust="spacingAndGlyphs">75 kg</text>
<rect x="493.1" y="510.6" width="5.0" height="2" fill="#2e2e70"/>
<text x="489.0" y="517.6" font-size="6.2" fill="#4a4a88" textLength="14.0" lengthAdjust="spacingAndGlyphs">75 kg</text>
<text x="427.5" y="517.3" font-size="4.4" fill="#4a4a88" textLength="26.0" lengthAdjust="spacingAndGlyphs">Alimentazione</text>
<rect x="343.2" y="585.9" width="6.5" height="1.2" fill="#f08a3a"/>
<text x="353.2" y="589.0" font-size="6.3" fill="#62629a" textLength="80.7" lengthAdjust="spacingAndGlyphs">Fornitura di ossigeno l/min</text>
<rect x="441" y="585.9" width="6.5" height="1.2" fill="#7cc8e8"/>
<text x="451.0" y="589.0" font-size="6.3" fill="#62629a" textLength="88.0" lengthAdjust="spacingAndGlyphs">Ossigeno misurato all’entrata,</text>
<text x="452.0" y="596.9" font-size="6.3" fill="#62629a" textLength="124.3" lengthAdjust="spacingAndGlyphs">a valle della piattaforma di ossigenazione</text>
<rect x="343.2" y="607.6" width="6.5" height="1.2" fill="#2e2e6e"/>
<text x="353.2" y="610.7" font-size="6.3" fill="#62629a" textLength="81.7" lengthAdjust="spacingAndGlyphs">Livello di ossigeno ottimale</text>
<text x="353.2" y="618.6" font-size="6.3" fill="#62629a" textLength="50.2" lengthAdjust="spacingAndGlyphs">per un basso l.C.</text>
<rect x="441" y="607.6" width="6.5" height="1.2" fill="#6cc23a"/>
<text x="451.0" y="610.7" font-size="6.3" fill="#62629a" textLength="81.6" lengthAdjust="spacingAndGlyphs">Ossigeno misurato in uscita</text>
</svg>
</body></html>
